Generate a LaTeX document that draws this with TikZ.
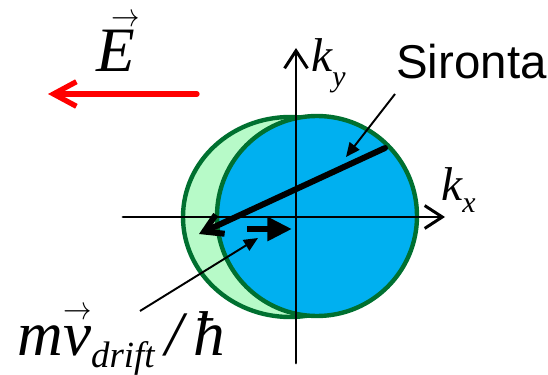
\documentclass[tikz,border=0pt]{standalone}
\usepackage{fontspec}
\setmainfont{Liberation Serif}
\newfontfamily\labelsans{Liberation Sans}
\usetikzlibrary{arrows.meta}
\definecolor{fermiblue}{RGB}{0,176,240}
\definecolor{fermigreen}{RGB}{0,112,48}
\definecolor{shiftgreen}{RGB}{183,250,200}
\definecolor{fieldred}{RGB}{255,0,0}
% vector letter: #1 raise of the arrow, #2 shift, #3 letter
\newcommand{\vecit}[3]{\leavevmode\rlap{\hspace{#2}\smash{\raisebox{#1}{\scalebox{0.65}[0.75]{$\rightarrow$}}}}\mbox{\itshape #3}}
\newcommand{\subfont}{\fontsize{17}{17}\selectfont\itshape}
\newcommand{\driftfont}{\fontsize{21}{21}\selectfont\itshape}
\tikzset{
  axisarrow/.style={
    -{Straight Barb[length=10pt,width=13pt]},
    draw=black, line width=1.7pt, line cap=round, line join=round
  },
  fieldarrow/.style={
    -{Straight Barb[length=13pt,width=14pt]},
    draw=fieldred, line width=3pt, line cap=round, line join=round
  },
  sirontaarrow/.style={
    -{Straight Barb[length=10pt,width=12pt]},
    draw=black, line width=3.4pt, line cap=round, line join=round
  },
  driftarrow/.style={
    -{Triangle[length=14pt,width=13pt]},
    draw=black, line width=3.6pt
  },
  leaderarrow/.style={
    -{Triangle[length=8pt,width=7pt]},
    draw=black, line width=1.1pt
  },
  fermidisk/.style={
    draw=fermigreen, line width=2.5pt
  },
  bigmath/.style={
    font=\fontsize{36}{40}\selectfont\itshape, inner sep=0pt
  },
  axislabel/.style={
    font=\fontsize{27}{30}\selectfont\itshape, inner sep=0pt
  },
  sirontalabel/.style={
    font=\fontsize{27}{30}\selectfont\labelsans, inner sep=0pt
  },
}

\begin{document}
\begin{tikzpicture}[x=0.02cm, y=-0.02cm]
    \useasboundingbox (0,0) rectangle (548,375);

    %% Fermi disks
    \filldraw[fermidisk, fill=shiftgreen] (290,217) ellipse [x radius=107, y radius=100];
    \filldraw[fermidisk, fill=fermiblue] (317,216) circle [radius=100];

    %% Axes
    \coordinate (kxstart) at (123,217);
    \coordinate (kxend) at (445,217);
    \coordinate (kystart) at (296,363);
    \coordinate (kyend) at (296,48);
    \draw[axisarrow] (kxstart) -- (kxend);
    \draw[axisarrow] (kystart) -- (kyend);
    \node[axislabel, anchor=base west] (kx) at (441,200)
      {k\raisebox{-7pt}{\subfont x}};
    \node[axislabel, anchor=base west] (ky) at (311,72)
      {k\raisebox{-8.5pt}{\subfont y}};

    %% Field
    \coordinate (fieldstart) at (197,94);
    \coordinate (fieldend) at (48,94);
    \draw[fieldarrow] (fieldstart) -- (fieldend);
    \node[bigmath, anchor=base] (efield) at (116,72) {\vecit{0.72em}{0.24em}{E}};

    %% Sironta
    \coordinate (sirontafrom) at (385,148);
    \coordinate (sirontato) at (199,234);
    \draw[sirontaarrow] (sirontafrom) -- (sirontato);
    \node[sirontalabel, anchor=base west] (sironta) at (396,79) {Sironta};
    \coordinate (sirontafoot) at (395,94);
    \coordinate (sirontahit) at (346,157);
    \draw[leaderarrow] (sirontafoot) -- (sirontahit);

    %% Drift
    \coordinate (driftfrom) at (247,229);
    \coordinate (driftto) at (292,229);
    \draw[driftarrow] (driftfrom) -- (driftto);
    \node[bigmath, anchor=base west] (drift) at (17,355)
      {m\vecit{0.56em}{0em}{v}\raisebox{-7pt}{\driftfont drift}\,/\,ħ};
    \coordinate (driftfoot) at (140,311);
    \coordinate (drifthit) at (258,238);
    \draw[leaderarrow] (driftfoot) -- (drifthit);

  \end{tikzpicture}
\end{document}
